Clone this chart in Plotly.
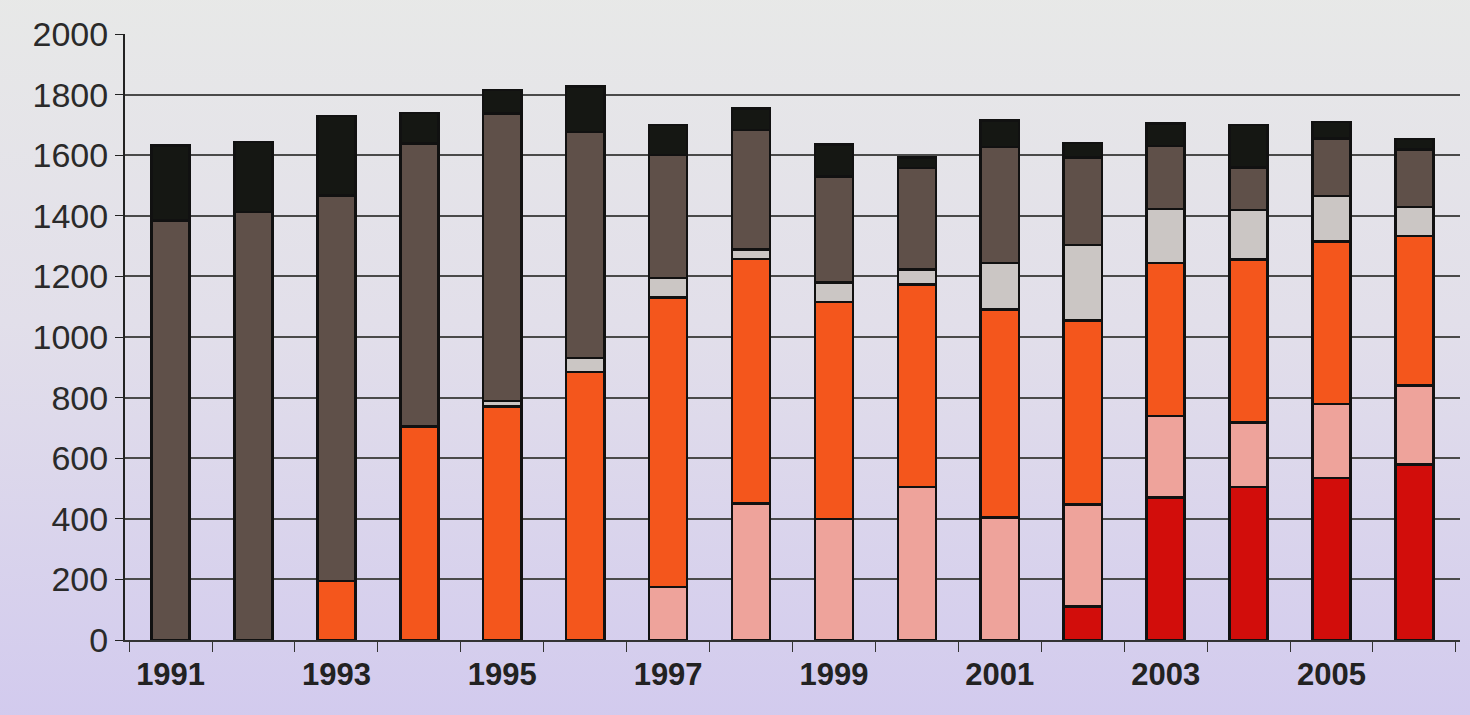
import base64
import plotly.graph_objects as go

years = [str(y) for y in range(1991, 2007)]
tick_text = [y if (int(y) - 1991) % 2 == 0 else "" for y in years]

red = [0, 0, 0, 0, 0, 0, 0, 0, 0, 0, 0, 110, 470, 505, 535, 580]
pink = [0, 0, 0, 0, 0, 0, 175, 450, 400, 505, 405, 337, 270, 213, 244, 260]
orange = [0, 0, 195, 705, 770, 885, 955, 808, 715, 668, 686, 608, 505, 538, 536, 493]
gray = [0, 0, 0, 0, 18, 45, 65, 31, 65, 50, 153, 248, 177, 163, 150, 96]
taupe = [1384, 1413, 1272, 934, 949, 747, 405, 395, 349, 335, 383, 289, 209, 140, 190, 190]
black = [248, 230, 263, 101, 78, 150, 100, 70, 106, 35, 88, 48, 73, 141, 54, 35]

series = [
    ("Red", red, "#d20d0b"),
    ("Pink", pink, "#eea39b"),
    ("Orange", orange, "#f4561c"),
    ("Light grey", gray, "#cbc6c4"),
    ("Taupe", taupe, "#5f5049"),
    ("Black", black, "#151713"),
]

fig = go.Figure()
for name, vals, col in series:
    fig.add_trace(go.Bar(
        x=years, y=vals, name=name,
        marker=dict(color=col, line=dict(color="#111111", width=2.5)),
        width=0.46,
    ))

svg = ('<svg xmlns="http://www.w3.org/2000/svg" width="100" height="100" '
       'preserveAspectRatio="none"><defs><linearGradient id="g" x1="0" y1="0" x2="0" y2="1">'
       '<stop offset="0" stop-color="#e9ebe7"/><stop offset="0.45" stop-color="#e2dfea"/>'
       '<stop offset="1" stop-color="#cec5ef"/></linearGradient></defs>'
       '<rect width="100" height="100" fill="url(#g)"/></svg>')
src = "data:image/svg+xml;base64," + base64.b64encode(svg.encode()).decode()

fig.update_layout(
    barmode="stack",
    width=1470, height=715,
    margin=dict(l=125, r=10, t=34, b=75),
    paper_bgcolor="#dcd8ea",
    plot_bgcolor="rgba(0,0,0,0)",
    showlegend=False,
    font=dict(family="Liberation Sans, Arial, sans-serif", color="#2a2a2a"),
    images=[dict(source=src, xref="paper", yref="paper", x=-0.2, y=1.2,
                 sizex=1.4, sizey=1.5, sizing="stretch", layer="below",
                 xanchor="left", yanchor="top")],
)
fig.update_yaxes(
    range=[0, 2000], tickvals=list(range(0, 2001, 200)),
    showgrid=True, gridcolor="#4a4a4a", gridwidth=1.5,
    showline=True, linecolor="#222222", linewidth=2,
    ticks="outside", ticklen=8, tickcolor="#222222",
    tickfont=dict(size=34, color="#2a2a2a"),
    zeroline=False,
)
fig.update_xaxes(
    type="category", tickvals=years, ticktext=tick_text,
    tickson="boundaries", ticks="outside", ticklen=10, tickcolor="#333333",
    showline=True, linecolor="#333333", linewidth=2,
    tickfont=dict(size=31, color="#222222", family="Liberation Sans, Arial, sans-serif", weight="bold"),
    ticklabelstandoff=6,
    range=[-0.55, 15.55],
)

fig.write_html("out.html")
